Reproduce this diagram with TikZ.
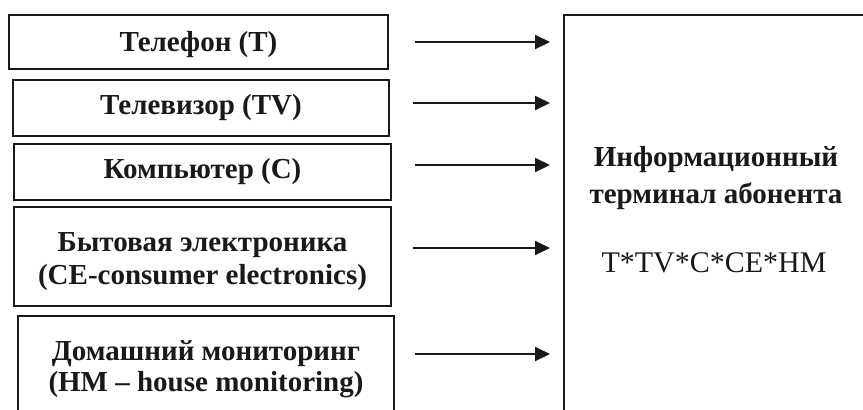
\documentclass[tikz,border=0pt]{standalone}
\usepackage{fontspec}
\setmainfont{Liberation Serif}
\usetikzlibrary{arrows.meta}
\begin{document}
\begin{tikzpicture}[x=1pt,y=-1pt,
  inbox/.style={draw=black!90, line width=2pt, rectangle, anchor=north west,
    inner sep=0pt},
  intext/.style={inner sep=0pt, align=center, text=black!90,
    font=\bfseries\fontsize{29}{33}\selectfont},
  feed/.style={line width=2pt, draw=black!90, -{Triangle[length=15pt,width=14pt]}},
  termtext/.style={align=center, text=black!90, inner sep=0pt}
]
\clip (0,0) rectangle (863,410);
\fill[white] (0,0) rectangle (863,410);
% input boxes
\node[inbox, minimum width=379pt, minimum height=54pt] (b1) at (8,14) {};
\node[inbox, minimum width=376pt, minimum height=56pt] (b2) at (12,79) {};
\node[inbox, minimum width=377pt, minimum height=56pt] (b3) at (13,143) {};
\node[inbox, minimum width=377pt, minimum height=99pt] (b4) at (13,206) {};
\node[inbox, minimum width=376pt, minimum height=104pt] (b5) at (17,315) {};
\node[intext] (t1) at ([yshift=-3pt]b1.center) {Телефон (Т)};
\node[intext] (t2) at (b2.center) {Телевизор (TV)};
\node[intext] (t3) at (b3.center) {Компьютер (С)};
\node[intext] (t4) at ([yshift=-5pt]b4.center) {Бытовая электроника\\(CE-consumer electronics)};
\node[intext, font=\bfseries\fontsize{29}{31}\selectfont] (t5) at ([yshift=-1pt]b5.center) {Домашний мониторинг\\(HM -- house monitoring)};
% terminal (right and bottom edges fall outside the picture)
\node[draw=black!90, line width=2pt, rectangle, anchor=north west,
  minimum width=360pt, minimum height=460pt] (term) at (563,14) {};
\node[termtext, font=\bfseries\fontsize{29}{37}\selectfont] (tl) at (716,178) {Информационный\\терминал абонента};
\node[termtext, font=\fontsize{30}{34}\selectfont] (tf) at (714,263) {T*TV*C*CE*HM};
% arrows
\coordinate (s1) at (415,42);
\coordinate (s2) at (413,103);
\coordinate (s3) at (415,165);
\coordinate (s4) at (413,248);
\coordinate (s5) at (415,354);
\foreach \i in {1,...,5}{
  \draw[feed, shorten >=13pt] (s\i) -- (s\i -| term.west);
}
\end{tikzpicture}
\end{document}
